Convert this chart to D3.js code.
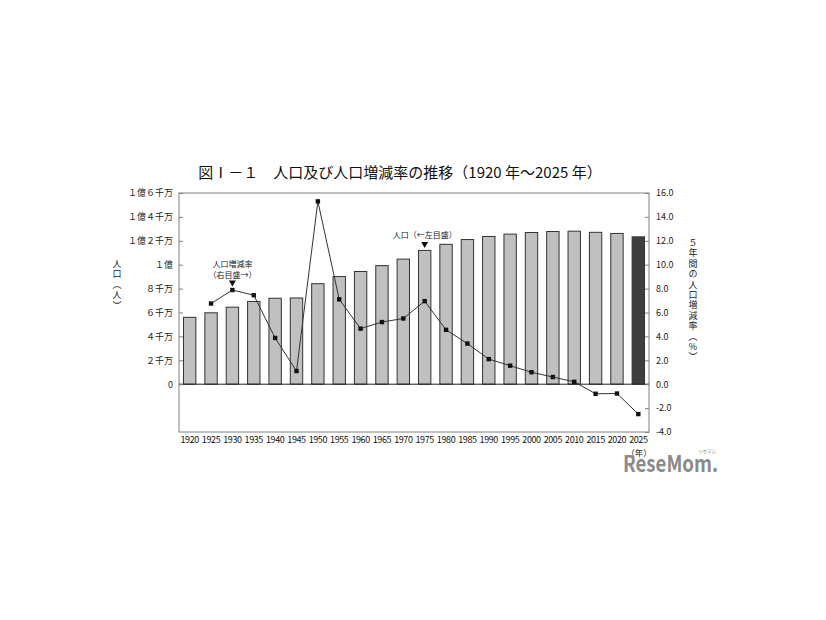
<!DOCTYPE html>
<html><head><meta charset="utf-8">
<script src="https://cdn.jsdelivr.net/npm/d3@7"></script>
<style>
html,body{margin:0;padding:0;background:#fff;}
text{font-family:"Noto Sans CJK JP","Noto Sans",sans-serif;fill:#222;}
</style></head>
<body>
<svg id="c" width="826" height="620"></svg>
<script>
const years = [1920,1925,1930,1935,1940,1945,1950,1955,1960,1965,1970,1975,1980,1985,1990,1995,2000,2005,2010,2015,2020,2025];
// population in millions
const population = [55.96,59.74,64.45,69.25,71.93,72.15,84.11,90.08,94.30,99.21,104.67,111.94,117.06,121.05,123.61,125.57,126.93,127.77,128.06,127.09,126.15,123.3];
// 5-year change rate (%)
const changeRate = [null,6.75,7.88,7.45,3.87,1.1,15.3,7.1,4.65,5.2,5.5,6.95,4.55,3.4,2.1,1.55,1.0,0.6,0.2,-0.8,-0.78,-2.5];
const leftTickValues = [0,20,40,60,80,100,120,140,160];
const leftTickLabels = ["0","２千万","４千万","６千万","８千万","１億","１億２千万","１億４千万","１億６千万"];
const rightTickValues = [-4,-2,0,2,4,6,8,10,12,14,16];
const title = "図Ⅰ－１　人口及び人口増減率の推移（1920 年～2025 年）";
const leftLabel = "人口（人）";
const rightLabel = "５年間の人口増減率（%）";

const svg = d3.select("#c");
const L = 179, R = 649, T = 193, B = 432;

const x = d3.scaleBand().domain(years).range([L, R]).paddingInner(0.42).paddingOuter(0.21);
const y = d3.scaleLinear().domain([-40,160]).range([B, T]);
const yR = d3.scaleLinear().domain([-4,16]).range([B, T]);

// title
svg.append("text").attr("x", 400).attr("y", 178).attr("text-anchor","middle")
  .attr("font-size", 15).attr("font-weight", 400).style("fill","#111").text(title);

// frame
svg.append("rect").attr("x", L).attr("y", T).attr("width", R-L).attr("height", B-T)
  .attr("fill","none").attr("stroke","#808080").attr("stroke-width",1);

// bars
svg.append("g").selectAll("rect").data(years).join("rect")
  .attr("x", d => x(d)).attr("width", x.bandwidth())
  .attr("y", (d,i) => y(population[i])).attr("height", (d,i) => y(0) - y(population[i]))
  .attr("fill", (d,i) => i === years.length-1 ? "#3f3f3f" : "#c0c0c0")
  .attr("stroke", "#333").attr("stroke-width", 1);

// zero line
svg.append("line").attr("x1", L).attr("x2", R).attr("y1", y(0)).attr("y2", y(0))
  .attr("stroke","#222").attr("stroke-width",1);

// left axis
const gl = svg.append("g").attr("transform", `translate(${L},0)`)
  .call(d3.axisLeft(y).tickValues(leftTickValues).tickFormat((d,i)=>leftTickLabels[i])
    .tickSizeInner(-4).tickSizeOuter(0).tickPadding(6));
gl.select(".domain").remove();
gl.selectAll("line").attr("stroke","#808080");
gl.selectAll("text").attr("font-size", 9).style("fill","#222");

// right axis
const gr = svg.append("g").attr("transform", `translate(${R},0)`)
  .call(d3.axisRight(yR).tickValues(rightTickValues).tickFormat(d=>d.toFixed(1))
    .tickSizeInner(-4).tickSizeOuter(0).tickPadding(7));
gr.select(".domain").remove();
gr.selectAll("line").attr("stroke","#808080");
gr.selectAll("text").attr("font-size", 9).attr("font-family","Arial, 'Liberation Sans', sans-serif").style("fill","#222");

// bottom axis
const gb = svg.append("g").attr("transform", `translate(0,${B})`)
  .call(d3.axisBottom(x).tickSize(0).tickPadding(5));
gb.select(".domain").remove();
gb.selectAll("text").attr("font-size", 9).attr("font-family","Arial, 'Liberation Sans', sans-serif")
  .attr("letter-spacing", -0.4).style("fill","#111");

// line
const pts = years.map((d,i)=>({year:d, v:changeRate[i]})).filter(p => p.v !== null);
const line = d3.line().x(p => x(p.year) + x.bandwidth()/2).y(p => yR(p.v));
svg.append("path").datum(pts).attr("d", line).attr("fill","none").attr("stroke","#333").attr("stroke-width",1);
svg.append("g").selectAll("rect").data(pts).join("rect")
  .attr("x", p => x(p.year) + x.bandwidth()/2 - 2.2).attr("y", p => yR(p.v) - 2.2)
  .attr("width", 4.4).attr("height", 4.4).attr("fill","#111");

// annotations
const cx1930 = x(1930) + x.bandwidth()/2;
svg.append("text").attr("x", cx1930).attr("y", 267).attr("text-anchor","middle").attr("font-size", 8).text("人口増減率");
svg.append("text").attr("x", cx1930).attr("y", 278).attr("text-anchor","middle").attr("font-size", 8).text("（右目盛→）");
svg.append("path").attr("d", `M${cx1930-3.5},${280.5}L${cx1930+3.5},${280.5}L${cx1930},${286.5}Z`).attr("fill","#111");

const cx1975 = x(1975) + x.bandwidth()/2;
svg.append("text").attr("x", cx1975).attr("y", 238).attr("text-anchor","middle").attr("font-size", 8).text("人口（←左目盛）");
svg.append("path").attr("d", `M${cx1975-3.5},${242}L${cx1975+3.5},${242}L${cx1975},${248}Z`).attr("fill","#111");

// vertical axis titles
svg.append("text").attr("x", 117).attr("y", 259)
  .style("writing-mode","vertical-rl").style("text-orientation","upright")
  .attr("font-size", 9).attr("letter-spacing", 1.5).text(leftLabel);
svg.append("text").attr("x", 693).attr("y", 238)
  .style("writing-mode","vertical-rl").style("text-orientation","upright")
  .attr("font-size", 9).attr("letter-spacing", 1.4).text(rightLabel);

// unit label
svg.append("text").attr("x", 639).attr("y", 456).attr("text-anchor","middle").attr("font-size", 8.5).text("（年）");

// watermark
svg.append("text").attr("x", 623).attr("y", 472).attr("font-size", 22).attr("font-weight", 700)
  .attr("font-family","Arial, 'Liberation Sans', sans-serif").style("fill","#8a8a8a")
  .attr("textLength", 95).attr("lengthAdjust","spacingAndGlyphs").text("ReseMom.");
svg.append("text").attr("x", 707).attr("y", 453).attr("text-anchor","middle").attr("font-size", 4.5).style("fill","#8a8a8a").text("リセマム");
</script>
</body></html>
